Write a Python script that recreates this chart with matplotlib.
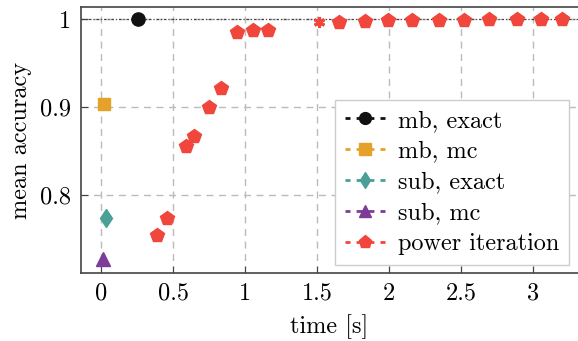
import matplotlib.pyplot as plt
import numpy as np
from matplotlib.lines import Line2D

plt.rcParams['font.family'] = ['cmr10', 'DejaVu Serif']
plt.rcParams['mathtext.fontset'] = 'cm'
plt.rcParams['axes.formatter.use_mathtext'] = True
plt.rcParams['font.size'] = 17.5

# single-point methods
mb_exact = (0.259, 1.0)
mb_mc = (0.021, 0.903)
sub_exact = (0.032, 0.774)
sub_mc = (0.016, 0.727)

# power iteration
pi_t = [0.387, 0.460, 0.590, 0.648, 0.752, 0.835, 0.944, 1.056, 1.158,
        1.651, 1.830, 1.988, 2.160, 2.345, 2.519, 2.694, 2.889, 3.051, 3.201]
pi_acc = [0.754, 0.773, 0.855, 0.867, 0.900, 0.921, 0.985, 0.987, 0.988,
          0.997, 0.998, 0.9985, 0.999, 0.999, 0.999, 0.9995, 0.9995, 0.9995, 0.9995]
star_pt = (1.514, 0.996)

black = "#111111"
orange = "#E5A22A"
teal = "#4A9F96"
purple = "#7D3C98"
red = "#F0463C"

fig = plt.figure(figsize=(5.78, 3.41), dpi=100)
ax = fig.add_axes([81/578, 1-273/341, 1-81/578, (273-7)/341])

ax.axhline(1.0, color="#444444", lw=0.9, ls=(0, (2, 1.5, 1, 1.5)), zorder=1)

ax.plot(*mb_exact, "o", color=black, ms=9.5, zorder=3)
ax.plot(*mb_mc, "s", color=orange, ms=9, zorder=3)
ax.plot(*sub_exact, "d", color=teal, ms=9.5, zorder=3)
ax.plot(*sub_mc, "^", color=purple, ms=9.5, zorder=3)
ax.plot(pi_t, pi_acc, "p", color=red, ms=10.5, ls="none", zorder=3)
ax.plot(*star_pt, marker=(6, 2, 0), color=red, ms=8, mew=2.2, ls="none", zorder=3)

ax.set_xlim(-0.139, 3.31)
ax.set_ylim(0.711, 1.0136)
ax.set_xticks([0, 0.5, 1, 1.5, 2, 2.5, 3])
ax.set_xticklabels(["0", "0.5", "1", "1.5", "2", "2.5", "3"])
ax.set_yticks([0.8, 0.9, 1.0])
ax.set_yticklabels(["0.8", "0.9", "1"])
ax.tick_params(direction="in", length=5, width=0.8, color="#444444", pad=7)
ax.grid(True, ls=(0, (5, 4)), color="#BBBBBB", lw=1.0)
ax.set_axisbelow(True)
for s in ["left", "bottom", "top"]:
    ax.spines[s].set_color("#444444")
    ax.spines[s].set_linewidth(1.2)
ax.spines["right"].set_visible(False)

ax.set_xlabel("time [s]", labelpad=7)
ax.set_ylabel("mean accuracy", labelpad=6)

# dash - marker - dash legend handles
hdash = (0, (1.8, 2.2, 6.4, 2.2))
handles = [
    Line2D([], [], color=black, ls=hdash, marker="o", ms=8.5, lw=2),
    Line2D([], [], color=orange, ls=hdash, marker="s", ms=8, lw=2),
    Line2D([], [], color=teal, ls=hdash, marker="d", ms=8.5, lw=2),
    Line2D([], [], color=purple, ls=hdash, marker="^", ms=8.5, lw=2),
    Line2D([], [], color=red, ls=hdash, marker="p", ms=9.5, lw=2),
]
labels = ["mb, exact", "mb, mc", "sub, exact", "sub, mc", "power iteration"]
leg = ax.legend(handles, labels, loc="lower right", bbox_to_anchor=(0.982, 0.03),
                fancybox=False, framealpha=1, edgecolor="#CCCCCC",
                handlelength=1.65, labelspacing=0.36, borderpad=0.4,
                handletextpad=0.52, borderaxespad=0, fontsize=17.5)
leg.get_frame().set_linewidth(1.0)

fig.savefig("out.png", dpi=100)
